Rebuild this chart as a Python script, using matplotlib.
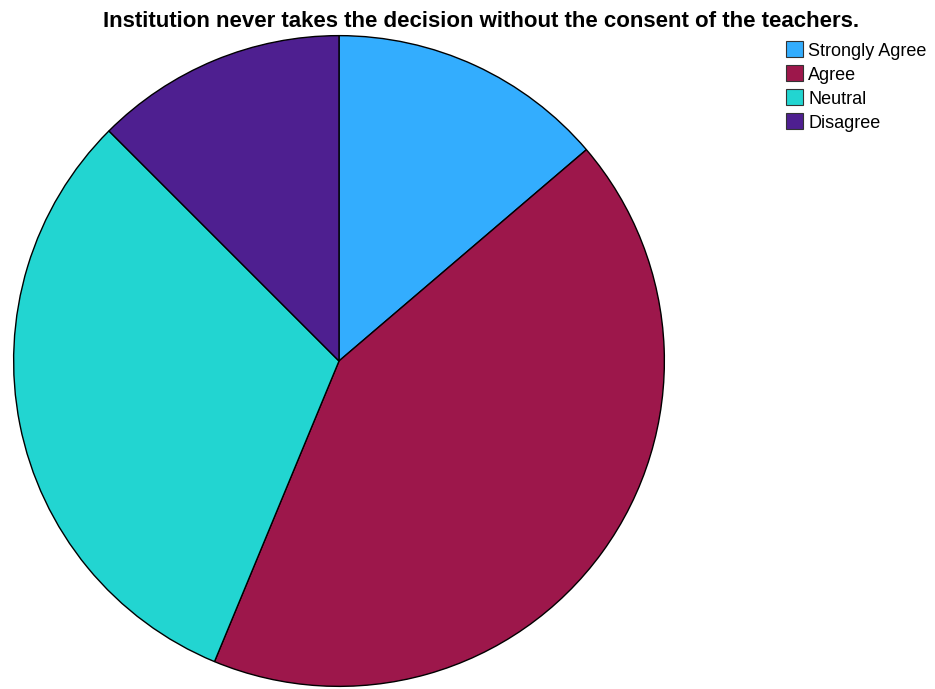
import matplotlib
matplotlib.use("Agg")
import matplotlib.pyplot as plt
from matplotlib.patches import Rectangle

plt.rcParams['font.family'] = ['Liberation Sans', 'DejaVu Sans']

categories = ["Strongly Agree", "Agree", "Neutral", "Disagree"]
counts = [11, 34, 25, 10]
colors = ["#33adfe", "#9d174b", "#22d5d1", "#4e1f90"]
title = "Institution never takes the decision without the consent of the teachers."

W, H = 935, 689
fig = plt.figure(figsize=(W / 100, H / 100), dpi=100)

# pie axes: centre (339, 361) px, radius 327 px
cx, cy, r = 339, 361, 327
ax = fig.add_axes([(cx - r) / W, (H - cy - r) / H, 2 * r / W, 2 * r / H])
ax.pie(counts, colors=colors, startangle=90, counterclock=False,
       wedgeprops=dict(edgecolor="black", linewidth=1.0), radius=1.0)
ax.set_xlim(-1.005, 1.005)
ax.set_ylim(-1.005, 1.005)
ax.set_aspect("equal")
ax.axis("off")

fig.text(481 / W, 1 - 27 / H, title, ha="center", va="baseline",
         fontsize=16, fontweight="bold", color="black")

# legend
for i, (lab, col) in enumerate(zip(categories, colors)):
    y = 49 + 24 * i
    fig.patches.append(Rectangle((786 / W, 1 - (y + 8) / H), 17 / W, 16 / H,
                                 facecolor=col, edgecolor="#333333",
                                 linewidth=0.8, transform=fig.transFigure))
    fig.text(808 / W, 1 - (y + 6.5) / H, lab, ha="left", va="baseline",
             fontsize=13, color="black")

fig.savefig("out.png", dpi=100, facecolor="white")
